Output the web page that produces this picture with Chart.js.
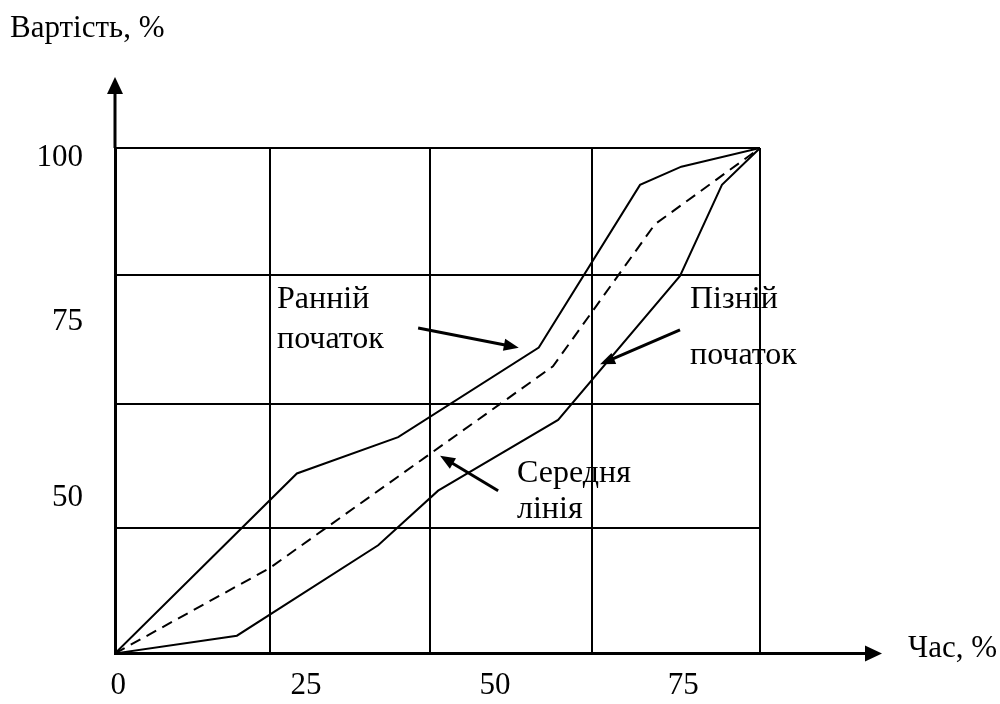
<!DOCTYPE html>
<html>
<head>
<meta charset="utf-8">
<script src="https://cdn.jsdelivr.net/npm/chart.js@4.4.0/dist/chart.umd.min.js"></script>
<style>
html,body{margin:0;padding:0;background:#fff;}
#wrap{width:1000px;height:704px;position:relative;}
</style>
</head>
<body>
<div id="wrap"><canvas id="c" width="1000" height="704"></canvas></div>
<script>
// ---- data (x: Час, %, y: Вартість, %) ----
const earlyX  = [0, 28.2, 43.9, 65.7, 81.4, 87.8, 100];
const earlyY  = [0, 35.6, 42.8, 60.5, 92.7, 96.3, 100];
const middleX = [0, 24.0, 67.9, 83.7, 100];
const middleY = [0, 16.9, 56.8, 84.9, 100];
const lateX   = [0, 18.9, 40.8, 50.1, 68.7, 87.6, 94.1, 100];
const lateY   = [0, 3.5, 21.4, 32.2, 46.2, 74.7, 92.7, 100];
const seriesNames = ['Ранній початок', 'Середня лінія', 'Пізній початок'];
const xTickLabels = ['0', '25', '50', '75'];
const yTickLabels = ['100', '75', '50'];
const xAxisTitle = 'Час, %';
const yAxisTitle = 'Вартість, %';

// ---- layout (where grid lines and tick labels sit, in axis units) ----
const X_GRID = [0, 24.0, 48.8, 74.0, 100];
const Y_GRID = [0, 24.8, 49.3, 74.9, 100];
const X_LABEL_AT = [0.5, 29.6, 58.9, 88.1];
const Y_LABEL_AT = [98.0, 65.6, 30.8];
const FONT = 'Liberation Serif';

const toPts = (xs, ys) => xs.map((x, i) => ({x: x, y: ys[i]}));

const annotations = [
  {lines: ['Ранній', 'початок'], x: 277, y: [308, 348], from: [47.0, 64.4], to: [62.6, 60.5]},
  {lines: ['Пізній', 'початок'], x: 690, y: [308, 364], from: [87.6, 64.0], to: [75.2, 57.2]},
  {lines: ['Середня', 'лінія'], x: 517, y: [482, 518], from: [59.4, 32.2], to: [50.4, 39.1]}
];

function arrowHead(ctx, x1, y1, x2, y2, len, half) {
  const a = Math.atan2(y2 - y1, x2 - x1);
  const bx = x2 - len * Math.cos(a), by = y2 - len * Math.sin(a);
  ctx.beginPath();
  ctx.moveTo(x2, y2);
  ctx.lineTo(bx + half * Math.sin(a), by - half * Math.cos(a));
  ctx.lineTo(bx - half * Math.sin(a), by + half * Math.cos(a));
  ctx.closePath();
  ctx.fill();
}

const decor = {
  id: 'decor',
  afterDraw(chart) {
    const ctx = chart.ctx;
    const xs = chart.scales.x, ys = chart.scales.y;
    const x0 = xs.getPixelForValue(0), y0 = ys.getPixelForValue(0);
    const xEnd = xs.getPixelForValue(100), yEnd = ys.getPixelForValue(100);
    ctx.save();
    ctx.strokeStyle = '#000';
    ctx.fillStyle = '#000';
    // axis extensions with arrows
    ctx.lineWidth = 3;
    ctx.beginPath();
    ctx.moveTo(x0, yEnd); ctx.lineTo(x0, 90);
    ctx.moveTo(xEnd, y0); ctx.lineTo(868, y0);
    ctx.stroke();
    arrowHead(ctx, x0, 120, x0, 77, 17, 8);
    arrowHead(ctx, 840, y0, 882, y0, 17, 8);
    // axis titles
    ctx.font = '31px "' + FONT + '"';
    ctx.textAlign = 'left';
    ctx.textBaseline = 'alphabetic';
    ctx.fillText(yAxisTitle, 10, 37);
    ctx.fillText(xAxisTitle, 908, 657);
    // annotations
    ctx.font = '32px "' + FONT + '"';
    annotations.forEach(a => {
      a.lines.forEach((t, i) => ctx.fillText(t, a.x, a.y[i]));
      const fx = xs.getPixelForValue(a.from[0]), fy = ys.getPixelForValue(a.from[1]);
      const tx = xs.getPixelForValue(a.to[0]), ty = ys.getPixelForValue(a.to[1]);
      const ang = Math.atan2(ty - fy, tx - fx);
      ctx.lineWidth = 3;
      ctx.beginPath();
      ctx.moveTo(fx, fy);
      ctx.lineTo(tx - 10 * Math.cos(ang), ty - 10 * Math.sin(ang));
      ctx.stroke();
      arrowHead(ctx, fx, fy, tx, ty, 15, 6);
    });
    ctx.restore();
  }
};

const lineStyle = {borderColor: '#000', borderWidth: 2, pointRadius: 0, tension: 0, fill: false, showLine: true};

new Chart(document.getElementById('c'), {
  type: 'scatter',
  data: {
    datasets: [
      Object.assign({label: seriesNames[0], data: toPts(earlyX, earlyY)}, lineStyle),
      Object.assign({label: seriesNames[1], data: toPts(middleX, middleY), borderDash: [11, 7]}, lineStyle),
      Object.assign({label: seriesNames[2], data: toPts(lateX, lateY)}, lineStyle)
    ]
  },
  options: {
    responsive: false,
    animation: false,
    devicePixelRatio: 1,
    layout: {padding: {top: 148, right: 240, left: 0, bottom: 0}},
    plugins: {legend: {display: false}, tooltip: {enabled: false}},
    scales: {
      x: {
        type: 'linear', position: 'bottom', min: 0, max: 100, weight: 0,
        afterFit: s => { s.height = 0; },
        afterBuildTicks: s => { s.ticks = X_GRID.map(v => ({value: v})); },
        ticks: {display: false},
        grid: {color: '#000', lineWidth: 2, drawTicks: false},
        border: {display: true, color: '#000', width: 3}
      },
      xLab: {
        type: 'linear', position: 'bottom', min: 0, max: 100, weight: 1,
        afterFit: s => { s.height = 47; },
        afterBuildTicks: s => { s.ticks = X_LABEL_AT.map(v => ({value: v})); },
        grid: {display: false, drawTicks: false},
        border: {display: false},
        ticks: {color: '#000', font: {family: FONT, size: 31}, padding: 14, maxRotation: 0, autoSkip: false,
                callback: (v, i) => xTickLabels[i]}
      },
      y: {
        type: 'linear', position: 'left', min: 0, max: 100, weight: 0,
        afterFit: s => { s.width = 0; },
        afterBuildTicks: s => { s.ticks = Y_GRID.map(v => ({value: v})); },
        ticks: {display: false},
        grid: {color: '#000', lineWidth: 2, drawTicks: false},
        border: {display: true, color: '#000', width: 3}
      },
      yLab: {
        type: 'linear', position: 'left', min: 0, max: 100, weight: 1,
        afterFit: s => { s.width = 115; },
        afterBuildTicks: s => { s.ticks = Y_LABEL_AT.map(v => ({value: v})); },
        grid: {display: false, drawTicks: false},
        border: {display: false},
        ticks: {color: '#000', font: {family: FONT, size: 31}, padding: 32, autoSkip: false,
                callback: (v, i) => yTickLabels[i]}
      }
    }
  },
  plugins: [decor]
});
</script>
</body>
</html>
